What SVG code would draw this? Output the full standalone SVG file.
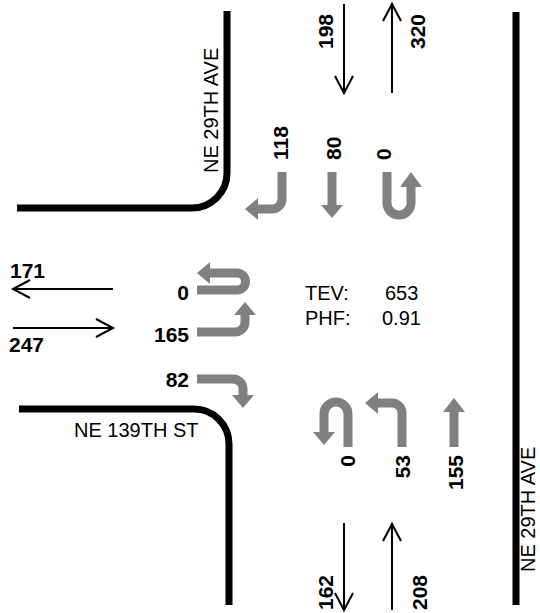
<svg xmlns="http://www.w3.org/2000/svg" width="540" height="613" viewBox="0 0 540 613">
<style>
.curb{fill:none;stroke:#000;stroke-width:7}
.thin{fill:none;stroke:#000;stroke-width:2}
.mv{fill:none;stroke:#808080;stroke-width:9}
.hd{fill:#808080}
.n{font-family:"Liberation Sans",Arial,sans-serif;font-weight:bold;font-size:21px;fill:#000}
.t{font-family:"Liberation Sans",Arial,sans-serif;font-size:20px;fill:#000}
</style>
<defs>
<marker id="chev" markerUnits="userSpaceOnUse" markerWidth="20" markerHeight="20" orient="auto" overflow="visible">
<path d="M-17,-9 L0,0 L-17,9" fill="none" stroke="#000" stroke-width="2"/>
</marker>
</defs>
<rect width="540" height="613" fill="#fff"/>
<g id="curbs">
<path class="curb" d="M17,208 H192 A35,35 0 0 0 227,173 V11"/>
<path class="curb" d="M19,409 H194 A35,35 0 0 1 229,444 V605"/>
<path class="curb" d="M516,12 V605"/>
</g>
<g id="street-labels">
<text class="t" transform="translate(218,173) rotate(-90)">NE 29TH AVE</text>
<text class="t" transform="translate(535,572) rotate(-90)">NE 29TH AVE</text>
<text class="t" x="74" y="437">NE 139TH ST</text>
</g>
<g id="connectors">
<line class="thin" x1="344" y1="4" x2="344" y2="93" marker-end="url(#chev)"/>
<line class="thin" x1="392" y1="93" x2="392" y2="4" marker-end="url(#chev)"/>
<line class="thin" x1="344" y1="523" x2="344" y2="610" marker-end="url(#chev)"/>
<line class="thin" x1="392" y1="610" x2="392" y2="524" marker-end="url(#chev)"/>
<line class="thin" x1="113" y1="289" x2="13" y2="289" marker-end="url(#chev)"/>
<line class="thin" x1="13" y1="328" x2="113" y2="328" marker-end="url(#chev)"/>
</g>
<g id="southbound">
<path class="mv" d="M282,172 V199 A10,10 0 0 1 272,209 H257"/>
<polygon class="hd" points="258,198 245,209 258,220"/>
<path class="mv" d="M332,172 V207"/>
<polygon class="hd" points="321,205 343,205 332,218"/>
<path class="mv" d="M387,172 V203 A12,12 0 0 0 411,203 V186"/>
<polygon class="hd" points="400,187 422,187 411,172"/>
<text class="n" transform="translate(288,160) rotate(-90)">118</text>
<text class="n" transform="translate(341,160) rotate(-90)">80</text>
<text class="n" transform="translate(391,160) rotate(-90)">0</text>
</g>
<g id="eastbound">
<path class="mv" d="M197,290 H237 A8.5,8.5 0 0 0 237,273 H209"/>
<polygon class="hd" points="210,262 197,273 210,284"/>
<path class="mv" d="M197,332 H235 A10,10 0 0 0 245,322 V314"/>
<polygon class="hd" points="234,315 256,315 245,302"/>
<path class="mv" d="M197,379 H233 A10,10 0 0 1 243,389 V397"/>
<polygon class="hd" points="232,395 254,395 243,408"/>
<text class="n" x="189" y="300" text-anchor="end">0</text>
<text class="n" x="189" y="342" text-anchor="end">165</text>
<text class="n" x="189" y="387" text-anchor="end">82</text>
</g>
<g id="northbound">
<path class="mv" d="M348,447 V414 A12,12 0 0 0 324,414 V434"/>
<polygon class="hd" points="313,432 335,432 324,445"/>
<path class="mv" d="M402,447 V413 A10,10 0 0 0 392,403 H376"/>
<polygon class="hd" points="378,392 378,414 365,403"/>
<path class="mv" d="M454,447 V412"/>
<polygon class="hd" points="443,412 465,412 454,398"/>
<text class="n" transform="translate(355,455) rotate(-90)" text-anchor="end">0</text>
<text class="n" transform="translate(410,455) rotate(-90)" text-anchor="end">53</text>
<text class="n" transform="translate(463,455) rotate(-90)" text-anchor="end">155</text>
</g>
<g id="volumes">
<text class="n" transform="translate(333,49) rotate(-90)">198</text>
<text class="n" transform="translate(425,49) rotate(-90)">320</text>
<text class="n" transform="translate(333,610) rotate(-90)">162</text>
<text class="n" transform="translate(427,610) rotate(-90)">208</text>
<text class="n" x="10" y="278">171</text>
<text class="n" x="9" y="352">247</text>
</g>
<g id="summary">
<text class="t" x="305" y="300">TEV:</text>
<text class="t" x="385" y="300">653</text>
<text class="t" x="305" y="325">PHF:</text>
<text class="t" x="382" y="325">0.91</text>
</g>
</svg>
